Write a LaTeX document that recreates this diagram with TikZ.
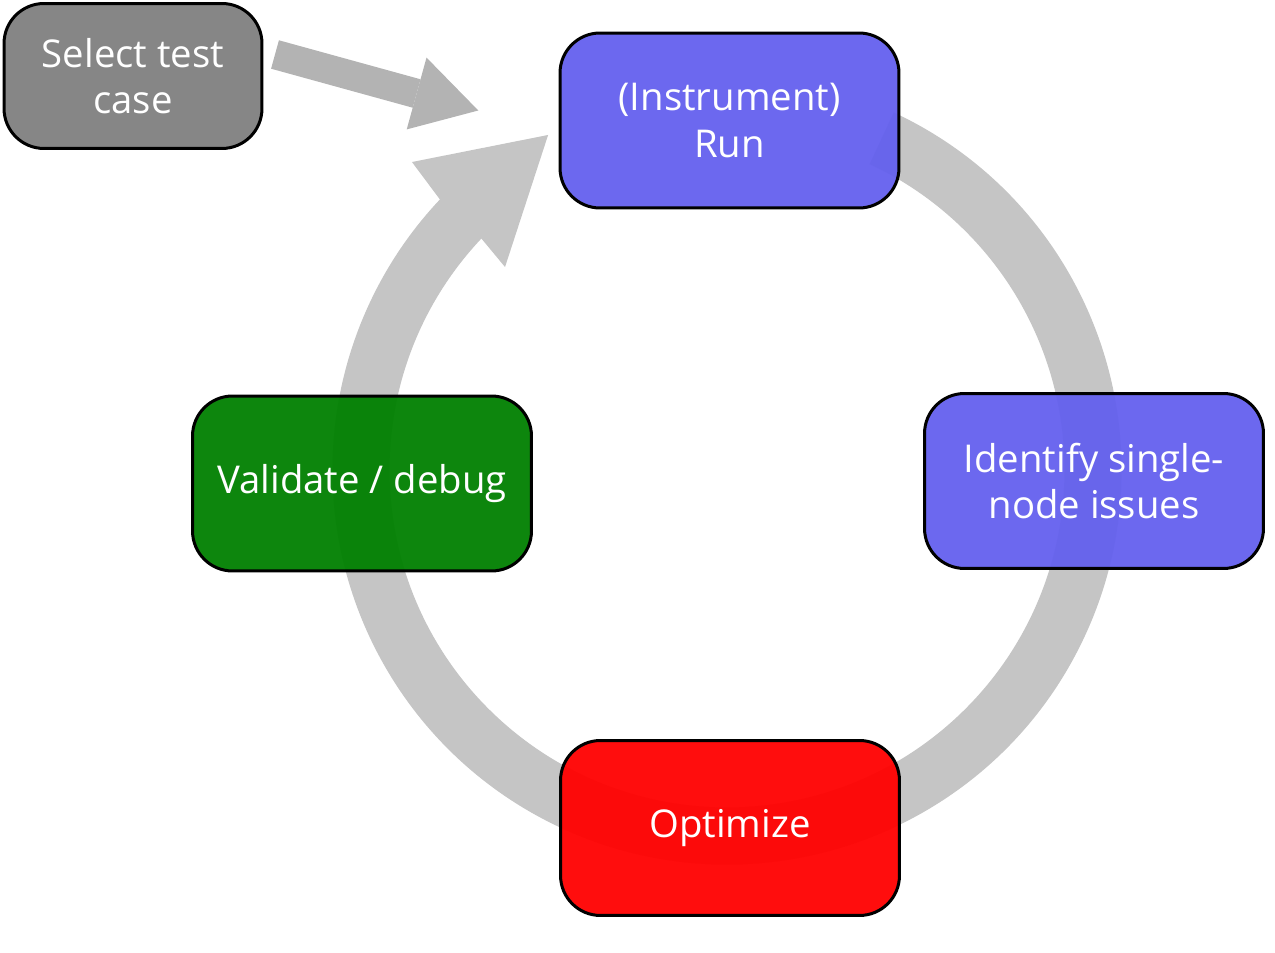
\documentclass[tikz,border=0pt]{standalone}
\usepackage{fontspec}
\setmainfont{Open Sans}
\usepackage{xcolor}
\usepackage{tikz}
\usetikzlibrary{arrows.meta}
\usetikzlibrary{positioning}

\definecolor{ringgray}{RGB}{197,197,197}
\definecolor{arrowgray}{RGB}{179,179,179}
\definecolor{selgray}{RGB}{128,128,128}
\definecolor{runblue}{RGB}{100,96,238}
\definecolor{valgreen}{RGB}{0,128,0}
\definecolor{optred}{RGB}{255,0,0}

\begin{document}
\begin{tikzpicture}[
	x=0.02cm, y=0.02cm,
	font=\fontsize{21.8pt}{26.5pt}\selectfont
]
\tikzset{
    mybox/.style = {rectangle, rounded corners=0.8cm, draw=black, line width=0.06cm, align=center, text=white, fill opacity=0.95, text opacity=1, minimum width=6.78cm, minimum height=3.5cm, inner sep=0pt}
}
\useasboundingbox (0,0) rectangle (1275,953);
% cycle ring
\fill[ringgray, shift={(727,483)}] (65:394.5) arc[start angle=65, end angle=-223.3, radius=394.5]
  -- (135.65:440.6) -- (118.1:379.8) -- (137.56:300.8)
  -- (136.7:337.5) arc[start angle=-223.3, end angle=65, radius=337.5] -- cycle;
% entry arrow
\coordinate (selTail) at (275,898.5);
\coordinate (selTip) at (478.3,842.5);
\draw[arrowgray, line width=0.59cm, -{Triangle[length=1.28cm, width=1.49cm, line width=0pt]}] (selTail) -- (selTip);
\node[mybox, fill=selgray, minimum width=5.16cm, minimum height=2.9cm] (sel) at (133,877) {Select test\\case};
\node[mybox, fill=runblue] (run) at (729.5,832.5) {(Instrument)\\Run};
\node[mybox, fill=runblue] (ident) at (1094,472) {Identify single-\\node issues};
\node[mybox, fill=valgreen] (valid) at (362,469.5) {Validate / debug};
\node[mybox, fill=optred] (optim) at (730,125) {Optimize};
\end{tikzpicture}
\end{document}
